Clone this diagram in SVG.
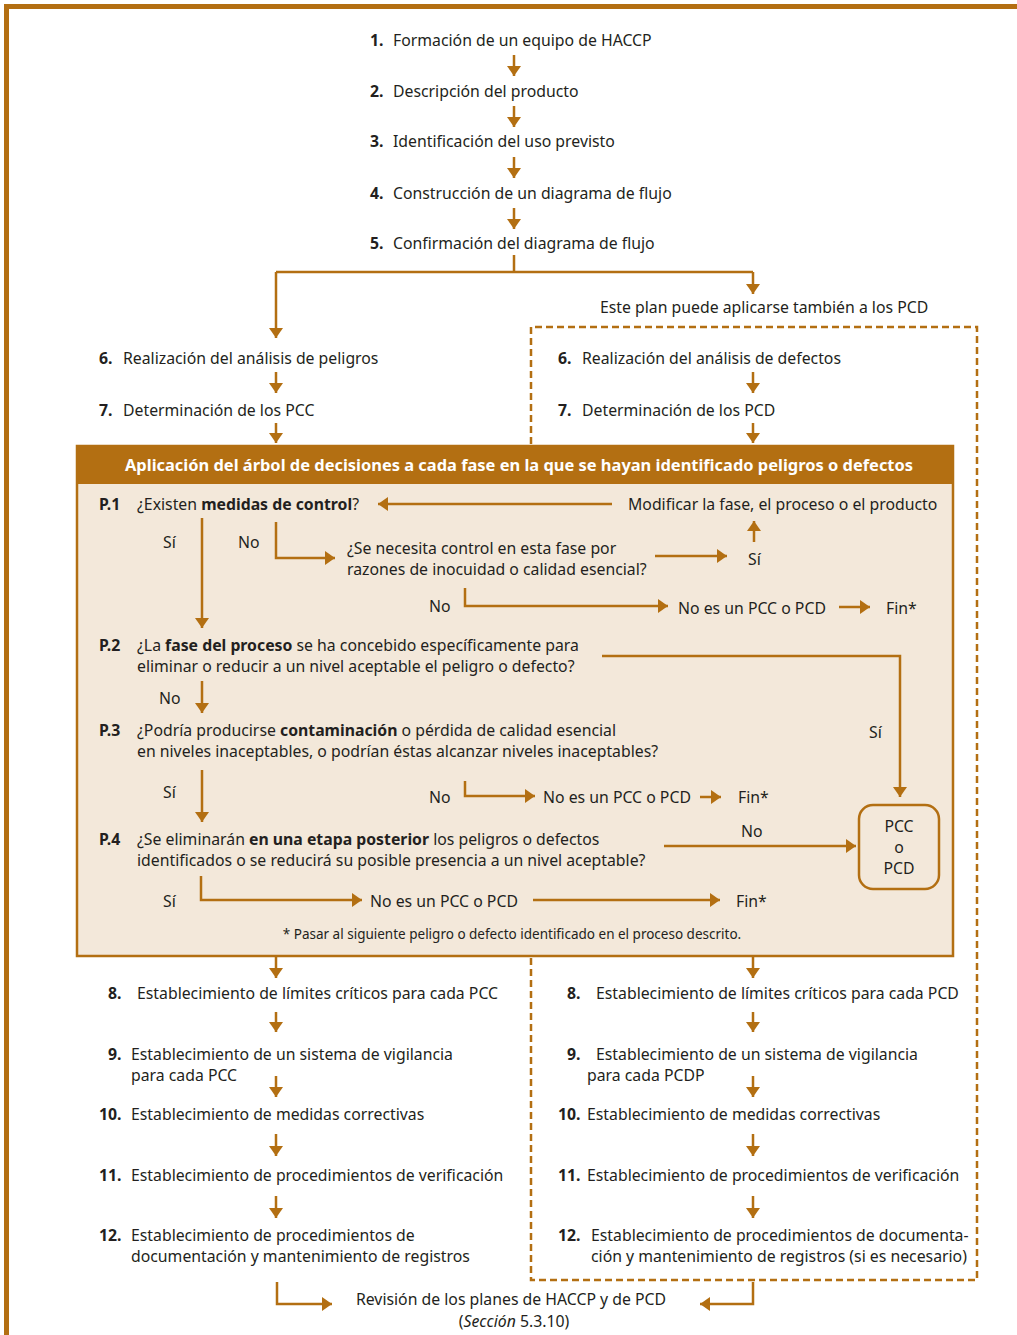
<svg xmlns="http://www.w3.org/2000/svg" width="1017" height="1335" viewBox="0 0 1017 1335">
<style>
text{font-family:"Noto Sans","Open Sans","Liberation Sans",sans-serif;font-size:15.8px;fill:#231f20}
.b{font-weight:bold}
.w{fill:#fff;font-weight:bold}
.s{font-size:13.5px}
.c{text-anchor:middle}
.ln{fill:none;stroke:#b36f12;stroke-width:2.5}
.ar{fill:none;stroke:#b36f12;stroke-width:2.5;marker-end:url(#ah)}
.ds{fill:none;stroke:#b36f12;stroke-width:2.5;stroke-dasharray:7 4}
</style>
<defs>
<marker id="ah" viewBox="0 -7 10 14" refX="10" refY="0" markerWidth="10" markerHeight="14" markerUnits="userSpaceOnUse" orient="auto">
<path d="M0,-7 L10,0 L0,7 Z" fill="#b36f12"/>
</marker>
</defs>
<rect width="1017" height="1335" fill="#fff"/>
<path d="M6.5,1335 V6.5 H1017" fill="none" stroke="#b36f12" stroke-width="5"/>

<g id="plan-box">
<path class="ds" d="M531,444 V327 H977 V1280 H531 V958"/>
</g>

<g id="tree-box">
<rect x="77" y="446" width="876" height="510" fill="#f3e8da" stroke="#b36f12" stroke-width="2.5"/>
<rect x="77" y="446" width="876" height="38" fill="#b36f12"/>
<text class="w" x="125" y="471" textLength="788" lengthAdjust="spacingAndGlyphs">Aplicación del árbol de decisiones a cada fase en la que se hayan identificado peligros o defectos</text>
</g>

<g id="connectors">
<path class="ar" d="M514,55 V76"/>
<path class="ar" d="M514,106 V127"/>
<path class="ar" d="M514,157 V178"/>
<path class="ar" d="M514,208 V229"/>
<path class="ln" d="M514,255 V272 H276 M514,272 H753"/>
<path class="ar" d="M276,272 V338"/>
<path class="ar" d="M753,272 V294"/>
<path class="ar" d="M276,372 V393"/>
<path class="ar" d="M276,423 V443"/>
<path class="ar" d="M753,372 V393"/>
<path class="ar" d="M753,423 V443"/>
<path class="ar" d="M612,504 H378"/>
<path class="ar" d="M754,542 V521"/>
<path class="ar" d="M655,556 H727"/>
<path class="ar" d="M202,518 V628"/>
<path class="ar" d="M276,522 V558 H335"/>
<path class="ar" d="M465,588 V606 H668"/>
<path class="ar" d="M839,607 H870"/>
<path class="ar" d="M602,656 H900 V797"/>
<path class="ar" d="M202,681 V713"/>
<path class="ar" d="M202,770 V822"/>
<path class="ar" d="M465,781 V796 H535"/>
<path class="ar" d="M700,797 H721"/>
<path class="ar" d="M664,846 H856"/>
<path class="ar" d="M201,876 V900 H362"/>
<path class="ar" d="M533,900 H720"/>
<path class="ar" d="M276,956 V978"/>
<path class="ar" d="M753,956 V978"/>
<path class="ar" d="M276,1012 V1032"/>
<path class="ar" d="M753,1012 V1032"/>
<path class="ar" d="M276,1076 V1097"/>
<path class="ar" d="M753,1076 V1097"/>
<path class="ar" d="M276,1134 V1156"/>
<path class="ar" d="M753,1134 V1156"/>
<path class="ar" d="M276,1196 V1218"/>
<path class="ar" d="M753,1196 V1218"/>
<path class="ar" d="M277,1282 V1304 H332"/>
<path class="ar" d="M753,1282 V1304 H700"/>
</g>

<g id="step1"><text x="370" y="46"><tspan class="b">1.</tspan><tspan x="393">Formación de un equipo de HACCP</tspan></text></g>
<g id="step2"><text x="370" y="97"><tspan class="b">2.</tspan><tspan x="393">Descripción del producto</tspan></text></g>
<g id="step3"><text x="370" y="147"><tspan class="b">3.</tspan><tspan x="393">Identificación del uso previsto</tspan></text></g>
<g id="step4"><text x="370" y="199"><tspan class="b">4.</tspan><tspan x="393">Construcción de un diagrama de flujo</tspan></text></g>
<g id="step5"><text x="370" y="249"><tspan class="b">5.</tspan><tspan x="393">Confirmación del diagrama de flujo</tspan></text></g>
<g id="note-pcd"><text x="600" y="313">Este plan puede aplicarse también a los PCD</text></g>

<g id="step6-pcc"><text x="99" y="364"><tspan class="b">6.</tspan><tspan x="123">Realización del análisis de peligros</tspan></text></g>
<g id="step7-pcc"><text x="99" y="416"><tspan class="b">7.</tspan><tspan x="123">Determinación de los PCC</tspan></text></g>
<g id="step6-pcd"><text x="558" y="364"><tspan class="b">6.</tspan><tspan x="582">Realización del análisis de defectos</tspan></text></g>
<g id="step7-pcd"><text x="558" y="416"><tspan class="b">7.</tspan><tspan x="582">Determinación de los PCD</tspan></text></g>

<g id="p1">
<text class="b" x="99" y="510">P.1</text>
<text x="137" y="510">¿Existen <tspan class="b">medidas de control</tspan>?</text>
<text x="163" y="548">Sí</text>
<text x="238" y="548">No</text>
</g>
<g id="modificar"><text x="628" y="510">Modificar la fase, el proceso o el producto</text></g>
<g id="q-control">
<text x="347" y="554">¿Se necesita control en esta fase por</text>
<text x="347" y="575">razones de inocuidad o calidad esencial?</text>
<text x="748" y="565">Sí</text>
<text x="429" y="612">No</text>
</g>
<g id="nopcc1"><text x="678" y="614">No es un PCC o PCD</text><text x="886" y="614">Fin*</text></g>

<g id="p2">
<text class="b" x="99" y="651">P.2</text>
<text x="137" y="651">¿La <tspan class="b">fase del proceso</tspan> se ha concebido específicamente para</text>
<text x="137" y="672">eliminar o reducir a un nivel aceptable el peligro o defecto?</text>
<text x="159" y="704">No</text>
<text x="869" y="738">Sí</text>
</g>
<g id="p3">
<text class="b" x="99" y="736">P.3</text>
<text x="137" y="736">¿Podría producirse <tspan class="b">contaminación</tspan> o pérdida de calidad esencial</text>
<text x="137" y="757">en niveles inaceptables, o podrían éstas alcanzar niveles inaceptables?</text>
<text x="163" y="798">Sí</text>
<text x="429" y="803">No</text>
</g>
<g id="nopcc2"><text x="543" y="803">No es un PCC o PCD</text><text x="738" y="803">Fin*</text></g>
<g id="p4">
<text class="b" x="99" y="845">P.4</text>
<text x="137" y="845">¿Se eliminarán <tspan class="b">en una etapa posterior</tspan> los peligros o defectos</text>
<text x="137" y="866">identificados o se reducirá su posible presencia a un nivel aceptable?</text>
<text x="741" y="837">No</text>
<text x="163" y="907">Sí</text>
</g>
<g id="pcc-box">
<rect x="859" y="805" width="80" height="84" rx="14" fill="none" stroke="#b36f12" stroke-width="2.5"/>
<text class="c" x="899" y="832">PCC</text>
<text class="c" x="899" y="853">o</text>
<text class="c" x="899" y="874">PCD</text>
</g>
<g id="nopcc3"><text x="370" y="907">No es un PCC o PCD</text><text x="736" y="907">Fin*</text></g>
<g id="footnote"><text class="s c" x="512" y="939">* Pasar al siguiente peligro o defecto identificado en el proceso descrito.</text></g>

<g id="step8-pcc"><text x="108" y="999"><tspan class="b">8.</tspan><tspan x="137">Establecimiento de límites críticos para cada PCC</tspan></text></g>
<g id="step8-pcd"><text x="567" y="999"><tspan class="b">8.</tspan><tspan x="596">Establecimiento de límites críticos para cada PCD</tspan></text></g>
<g id="step9-pcc"><text x="108" y="1060"><tspan class="b">9.</tspan><tspan x="131">Establecimiento de un sistema de vigilancia</tspan></text><text x="131" y="1081">para cada PCC</text></g>
<g id="step9-pcd"><text x="567" y="1060"><tspan class="b">9.</tspan><tspan x="596">Establecimiento de un sistema de vigilancia</tspan></text><text x="587" y="1081">para cada PCDP</text></g>
<g id="step10-pcc"><text x="99" y="1120"><tspan class="b">10.</tspan><tspan x="131">Establecimiento de medidas correctivas</tspan></text></g>
<g id="step10-pcd"><text x="558" y="1120"><tspan class="b">10.</tspan><tspan x="587">Establecimiento de medidas correctivas</tspan></text></g>
<g id="step11-pcc"><text x="99" y="1181"><tspan class="b">11.</tspan><tspan x="131">Establecimiento de procedimientos de verificación</tspan></text></g>
<g id="step11-pcd"><text x="558" y="1181"><tspan class="b">11.</tspan><tspan x="587">Establecimiento de procedimientos de verificación</tspan></text></g>
<g id="step12-pcc"><text x="99" y="1241"><tspan class="b">12.</tspan><tspan x="131">Establecimiento de procedimientos de</tspan></text><text x="131" y="1262">documentación y mantenimiento de registros</text></g>
<g id="step12-pcd"><text x="558" y="1241"><tspan class="b">12.</tspan><tspan x="591">Establecimiento de procedimientos de documenta-</tspan></text><text x="591" y="1262">ción y mantenimiento de registros (si es necesario)</text></g>
<g id="revision"><text class="c" x="511" y="1305">Revisión de los planes de HACCP y de PCD</text><text class="c" x="514" y="1327">(<tspan font-style="italic">Sección</tspan> 5.3.10)</text></g>
</svg>
